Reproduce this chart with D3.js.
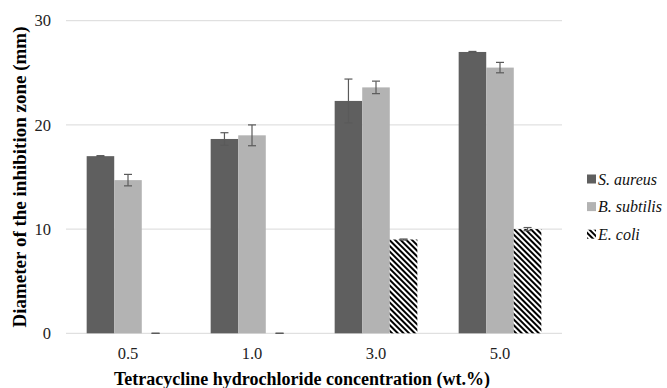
<!DOCTYPE html>
<html>
<head>
<meta charset="utf-8">
<script src="https://cdn.jsdelivr.net/npm/d3@7"></script>
<style>
  html, body { margin: 0; padding: 0; background: #fff; }
  svg { display: block; }
</style>
</head>
<body>
<svg id="chart" width="667" height="388"></svg>
<script>
// Inhibition zone diameters (mm) by tetracycline hydrochloride loading
const categories = ["0.5", "1.0", "3.0", "5.0"];
const seriesNames = ["S. aureus", "B. subtilis", "E. coli"];
const sAureus = [17.0, 18.65, 22.3, 27.0];
const bSubtilis = [14.7, 19.0, 23.6, 25.5];
const eColi = [0, 0, 9.0, 10.0];
const sAureusErr = [0.05, 0.6, 2.1, 0.05];
const bSubtilisErr = [0.55, 1.0, 0.6, 0.5];
const eColiErr = [0, 0, 0.05, 0.15];
const yTicks = [0, 10, 20, 30];

const seriesValues = [sAureus, bSubtilis, eColi];
const seriesErrors = [sAureusErr, bSubtilisErr, eColiErr];

const svg = d3.select("#chart");
const margin = { left: 66, right: 105, top: 20.7, bottom: 54.7 };
const W = 667, H = 388;
const plotW = W - margin.left - margin.right;
const plotH = H - margin.top - margin.bottom;

const defs = svg.append("defs");
const pat = defs.append("pattern")
  .attr("id", "stripes")
  .attr("patternUnits", "userSpaceOnUse")
  .attr("width", 4).attr("height", 4)
  .attr("patternTransform", "rotate(-45)");
pat.append("rect").attr("width", 4).attr("height", 4).attr("fill", "#fff");
pat.append("rect").attr("width", 2).attr("height", 4).attr("fill", "#000");

const fills = ["#5f5f5f", "#b3b3b3", "url(#stripes)"];

const x0 = d3.scaleBand().domain(categories)
  .range([margin.left, margin.left + plotW])
  .paddingInner(0).paddingOuter(0);
// Bar group takes 3/(3+1.5) of each category slot
const groupW = x0.bandwidth() * 3 / 4.5;
const x1 = d3.scaleBand().domain(seriesNames).range([0, groupW]);

const y = d3.scaleLinear().domain([0, 30]).range([margin.top + plotH, margin.top]);

const font = "'Liberation Serif', 'Times New Roman', serif";

// Gridlines
svg.append("g").selectAll("line").data(yTicks).join("line")
  .attr("x1", margin.left).attr("x2", margin.left + plotW)
  .attr("y1", d => y(d)).attr("y2", d => y(d))
  .attr("stroke", "#d9d9d9").attr("stroke-width", 1);

// Y axis tick labels
const yAxis = d3.axisLeft(y).tickValues(yTicks).tickSize(0).tickPadding(15).tickFormat(d3.format("d"));
const gy = svg.append("g").attr("transform", `translate(${margin.left},0)`).call(yAxis);
gy.select(".domain").remove();
gy.selectAll("text").attr("font-family", font).attr("font-size", 16.5).attr("fill", "#222");

// X axis tick labels
const xAxis = d3.axisBottom(x0).tickSize(0).tickPadding(14);
const gx = svg.append("g").attr("transform", `translate(0,${y(0)})`).call(xAxis);
gx.select(".domain").remove();
gx.selectAll("text").attr("font-family", font).attr("font-size", 16.5).attr("fill", "#222");

// Bars
const groups = svg.append("g").selectAll("g").data(categories).join("g")
  .attr("transform", d => `translate(${x0(d) + (x0.bandwidth() - groupW) / 2},0)`);

groups.each(function(cat, ci) {
  const g = d3.select(this);
  seriesNames.forEach((s, si) => {
    const v = seriesValues[si][ci];
    if (v > 0) {
      g.append("rect")
        .attr("x", x1(s)).attr("width", x1.bandwidth())
        .attr("y", y(v)).attr("height", y(0) - y(v))
        .attr("fill", fills[si]);
    }
  });
  // Error bars
  seriesNames.forEach((s, si) => {
    const v = seriesValues[si][ci];
    const e = seriesErrors[si][ci];
    const cx = x1(s) + x1.bandwidth() / 2;
    const eg = g.append("g").attr("stroke", "#5a5a5a").attr("stroke-width", 1.2);
    eg.append("line").attr("x1", cx).attr("x2", cx).attr("y1", y(v + e)).attr("y2", y(v - e));
    eg.append("line").attr("x1", cx - 4).attr("x2", cx + 4).attr("y1", y(v + e)).attr("y2", y(v + e));
    eg.append("line").attr("x1", cx - 4).attr("x2", cx + 4).attr("y1", y(v - e)).attr("y2", y(v - e));
  });
});

// Axis titles
svg.append("text")
  .attr("x", 302).attr("y", 385)
  .attr("text-anchor", "middle")
  .attr("font-family", font).attr("font-size", 18).attr("font-weight", "bold")
  .attr("fill", "#000")
  .text("Tetracycline hydrochloride concentration (wt.%)");

svg.append("text")
  .attr("transform", `translate(26,${margin.top + plotH / 2}) rotate(-90)`)
  .attr("text-anchor", "middle")
  .attr("font-family", font).attr("font-size", 19).attr("font-weight", "bold")
  .attr("fill", "#000")
  .text("Diameter of the inhibition zone (mm)");

// Legend
const legend = svg.append("g").attr("transform", "translate(587,179)");
const li = legend.selectAll("g").data(seriesNames).join("g")
  .attr("transform", (d, i) => `translate(0,${i * 27.6})`);
li.append("rect").attr("x", 0).attr("y", -4.5).attr("width", 9).attr("height", 9)
  .attr("fill", (d, i) => fills[i]);
li.append("text").attr("x", 11).attr("y", 5.5)
  .attr("font-family", font).attr("font-size", 16).attr("font-style", "italic")
  .attr("fill", "#111")
  .text(d => d);
</script>
</body>
</html>
